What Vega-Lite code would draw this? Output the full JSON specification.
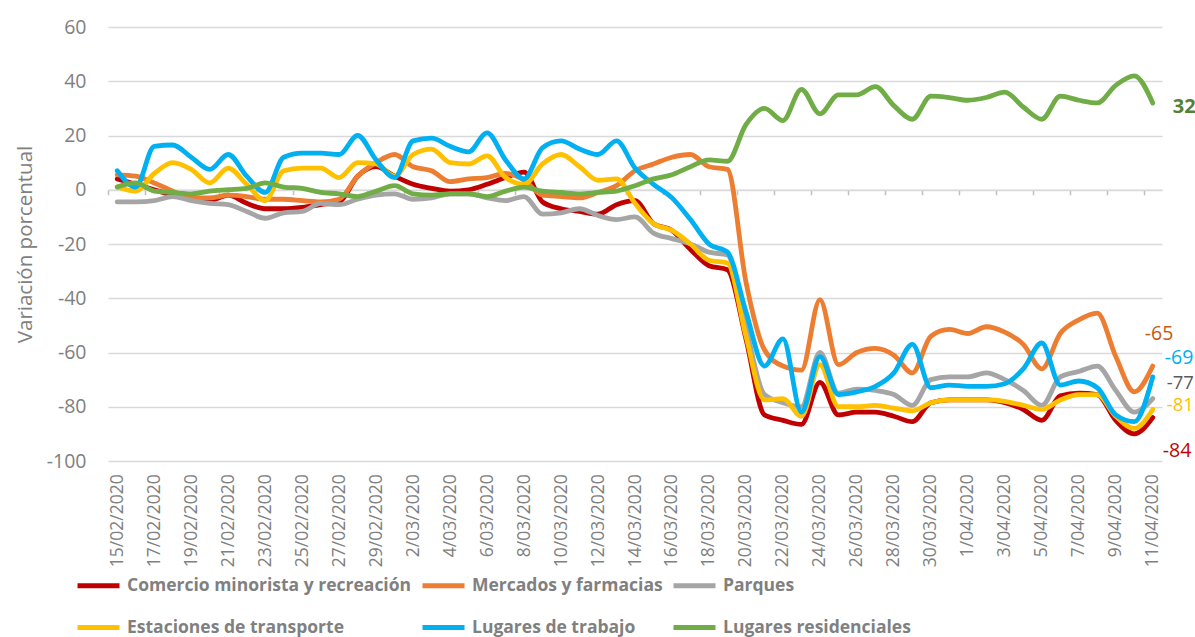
{
"$schema": "https://vega.github.io/schema/vega-lite/v6.json",
"width": 1054, "height": 434,
"autosize": {"type": "none"},
"padding": {"left": 108, "top": 27, "right": 33, "bottom": 176},
"background": "white",
"config": {"view": {"stroke": null}, "font": "Open Sans",
  "locale": {"number": {"decimal": ",", "thousands": ".", "grouping": [3], "currency": ["", " €"], "minus": "-"}}},
"data": {"values": [
{"fecha":"15/02/2020","serie":"Comercio minorista y recreación","valor":4},
{"fecha":"16/02/2020","serie":"Comercio minorista y recreación","valor":2},
{"fecha":"17/02/2020","serie":"Comercio minorista y recreación","valor":0},
{"fecha":"18/02/2020","serie":"Comercio minorista y recreación","valor":-2},
{"fecha":"19/02/2020","serie":"Comercio minorista y recreación","valor":-3.5},
{"fecha":"20/02/2020","serie":"Comercio minorista y recreación","valor":-4},
{"fecha":"21/02/2020","serie":"Comercio minorista y recreación","valor":-2},
{"fecha":"22/02/2020","serie":"Comercio minorista y recreación","valor":-5},
{"fecha":"23/02/2020","serie":"Comercio minorista y recreación","valor":-7},
{"fecha":"24/02/2020","serie":"Comercio minorista y recreación","valor":-7},
{"fecha":"25/02/2020","serie":"Comercio minorista y recreación","valor":-6.5},
{"fecha":"26/02/2020","serie":"Comercio minorista y recreación","valor":-5.5},
{"fecha":"27/02/2020","serie":"Comercio minorista y recreación","valor":-4.5},
{"fecha":"28/02/2020","serie":"Comercio minorista y recreación","valor":5},
{"fecha":"29/02/2020","serie":"Comercio minorista y recreación","valor":8.5},
{"fecha":"1/03/2020","serie":"Comercio minorista y recreación","valor":5},
{"fecha":"2/03/2020","serie":"Comercio minorista y recreación","valor":2},
{"fecha":"3/03/2020","serie":"Comercio minorista y recreación","valor":0.5},
{"fecha":"4/03/2020","serie":"Comercio minorista y recreación","valor":-0.5},
{"fecha":"5/03/2020","serie":"Comercio minorista y recreación","valor":0},
{"fecha":"6/03/2020","serie":"Comercio minorista y recreación","valor":2},
{"fecha":"7/03/2020","serie":"Comercio minorista y recreación","valor":4.5},
{"fecha":"8/03/2020","serie":"Comercio minorista y recreación","valor":6.5},
{"fecha":"9/03/2020","serie":"Comercio minorista y recreación","valor":-4.5},
{"fecha":"10/03/2020","serie":"Comercio minorista y recreación","valor":-7},
{"fecha":"11/03/2020","serie":"Comercio minorista y recreación","valor":-8},
{"fecha":"12/03/2020","serie":"Comercio minorista y recreación","valor":-9},
{"fecha":"13/03/2020","serie":"Comercio minorista y recreación","valor":-5.5},
{"fecha":"14/03/2020","serie":"Comercio minorista y recreación","valor":-4},
{"fecha":"15/03/2020","serie":"Comercio minorista y recreación","valor":-12.5},
{"fecha":"16/03/2020","serie":"Comercio minorista y recreación","valor":-15},
{"fecha":"17/03/2020","serie":"Comercio minorista y recreación","valor":-22},
{"fecha":"18/03/2020","serie":"Comercio minorista y recreación","valor":-28},
{"fecha":"19/03/2020","serie":"Comercio minorista y recreación","valor":-29.5},
{"fecha":"20/03/2020","serie":"Comercio minorista y recreación","valor":-55},
{"fecha":"21/03/2020","serie":"Comercio minorista y recreación","valor":-83},
{"fecha":"22/03/2020","serie":"Comercio minorista y recreación","valor":-85},
{"fecha":"23/03/2020","serie":"Comercio minorista y recreación","valor":-86.5},
{"fecha":"24/03/2020","serie":"Comercio minorista y recreación","valor":-71},
{"fecha":"25/03/2020","serie":"Comercio minorista y recreación","valor":-83},
{"fecha":"26/03/2020","serie":"Comercio minorista y recreación","valor":-82},
{"fecha":"27/03/2020","serie":"Comercio minorista y recreación","valor":-82},
{"fecha":"28/03/2020","serie":"Comercio minorista y recreación","valor":-83.5},
{"fecha":"29/03/2020","serie":"Comercio minorista y recreación","valor":-85.5},
{"fecha":"30/03/2020","serie":"Comercio minorista y recreación","valor":-78.5},
{"fecha":"31/03/2020","serie":"Comercio minorista y recreación","valor":-77.5},
{"fecha":"1/04/2020","serie":"Comercio minorista y recreación","valor":-77.5},
{"fecha":"2/04/2020","serie":"Comercio minorista y recreación","valor":-77.5},
{"fecha":"3/04/2020","serie":"Comercio minorista y recreación","valor":-78.5},
{"fecha":"4/04/2020","serie":"Comercio minorista y recreación","valor":-81},
{"fecha":"5/04/2020","serie":"Comercio minorista y recreación","valor":-85},
{"fecha":"6/04/2020","serie":"Comercio minorista y recreación","valor":-76},
{"fecha":"7/04/2020","serie":"Comercio minorista y recreación","valor":-75},
{"fecha":"8/04/2020","serie":"Comercio minorista y recreación","valor":-75.5},
{"fecha":"9/04/2020","serie":"Comercio minorista y recreación","valor":-85},
{"fecha":"10/04/2020","serie":"Comercio minorista y recreación","valor":-90},
{"fecha":"11/04/2020","serie":"Comercio minorista y recreación","valor":-84},
{"fecha":"15/02/2020","serie":"Mercados y farmacias","valor":5.5},
{"fecha":"16/02/2020","serie":"Mercados y farmacias","valor":5},
{"fecha":"17/02/2020","serie":"Mercados y farmacias","valor":2.5},
{"fecha":"18/02/2020","serie":"Mercados y farmacias","valor":-0.5},
{"fecha":"19/02/2020","serie":"Mercados y farmacias","valor":-3},
{"fecha":"20/02/2020","serie":"Mercados y farmacias","valor":-3},
{"fecha":"21/02/2020","serie":"Mercados y farmacias","valor":-2},
{"fecha":"22/02/2020","serie":"Mercados y farmacias","valor":-2.5},
{"fecha":"23/02/2020","serie":"Mercados y farmacias","valor":-3.5},
{"fecha":"24/02/2020","serie":"Mercados y farmacias","valor":-3.5},
{"fecha":"25/02/2020","serie":"Mercados y farmacias","valor":-4},
{"fecha":"26/02/2020","serie":"Mercados y farmacias","valor":-4.5},
{"fecha":"27/02/2020","serie":"Mercados y farmacias","valor":-3.5},
{"fecha":"28/02/2020","serie":"Mercados y farmacias","valor":5},
{"fecha":"29/02/2020","serie":"Mercados y farmacias","valor":10},
{"fecha":"1/03/2020","serie":"Mercados y farmacias","valor":13},
{"fecha":"2/03/2020","serie":"Mercados y farmacias","valor":8.5},
{"fecha":"3/03/2020","serie":"Mercados y farmacias","valor":7},
{"fecha":"4/03/2020","serie":"Mercados y farmacias","valor":3},
{"fecha":"5/03/2020","serie":"Mercados y farmacias","valor":4},
{"fecha":"6/03/2020","serie":"Mercados y farmacias","valor":4.5},
{"fecha":"7/03/2020","serie":"Mercados y farmacias","valor":6},
{"fecha":"8/03/2020","serie":"Mercados y farmacias","valor":3.5},
{"fecha":"9/03/2020","serie":"Mercados y farmacias","valor":-2},
{"fecha":"10/03/2020","serie":"Mercados y farmacias","valor":-2.5},
{"fecha":"11/03/2020","serie":"Mercados y farmacias","valor":-3},
{"fecha":"12/03/2020","serie":"Mercados y farmacias","valor":-1},
{"fecha":"13/03/2020","serie":"Mercados y farmacias","valor":1.5},
{"fecha":"14/03/2020","serie":"Mercados y farmacias","valor":7},
{"fecha":"15/03/2020","serie":"Mercados y farmacias","valor":9.5},
{"fecha":"16/03/2020","serie":"Mercados y farmacias","valor":12},
{"fecha":"17/03/2020","serie":"Mercados y farmacias","valor":13},
{"fecha":"18/03/2020","serie":"Mercados y farmacias","valor":8.5},
{"fecha":"19/03/2020","serie":"Mercados y farmacias","valor":7.5},
{"fecha":"20/03/2020","serie":"Mercados y farmacias","valor":-34},
{"fecha":"21/03/2020","serie":"Mercados y farmacias","valor":-59},
{"fecha":"22/03/2020","serie":"Mercados y farmacias","valor":-65},
{"fecha":"23/03/2020","serie":"Mercados y farmacias","valor":-66.5},
{"fecha":"24/03/2020","serie":"Mercados y farmacias","valor":-40.5},
{"fecha":"25/03/2020","serie":"Mercados y farmacias","valor":-64.5},
{"fecha":"26/03/2020","serie":"Mercados y farmacias","valor":-60},
{"fecha":"27/03/2020","serie":"Mercados y farmacias","valor":-58.5},
{"fecha":"28/03/2020","serie":"Mercados y farmacias","valor":-61},
{"fecha":"29/03/2020","serie":"Mercados y farmacias","valor":-67.5},
{"fecha":"30/03/2020","serie":"Mercados y farmacias","valor":-54},
{"fecha":"31/03/2020","serie":"Mercados y farmacias","valor":-51.5},
{"fecha":"1/04/2020","serie":"Mercados y farmacias","valor":-53},
{"fecha":"2/04/2020","serie":"Mercados y farmacias","valor":-50.5},
{"fecha":"3/04/2020","serie":"Mercados y farmacias","valor":-52.5},
{"fecha":"4/04/2020","serie":"Mercados y farmacias","valor":-57},
{"fecha":"5/04/2020","serie":"Mercados y farmacias","valor":-66},
{"fecha":"6/04/2020","serie":"Mercados y farmacias","valor":-53},
{"fecha":"7/04/2020","serie":"Mercados y farmacias","valor":-48},
{"fecha":"8/04/2020","serie":"Mercados y farmacias","valor":-45.5},
{"fecha":"9/04/2020","serie":"Mercados y farmacias","valor":-61.5},
{"fecha":"10/04/2020","serie":"Mercados y farmacias","valor":-74.5},
{"fecha":"11/04/2020","serie":"Mercados y farmacias","valor":-65},
{"fecha":"15/02/2020","serie":"Parques","valor":-4.5},
{"fecha":"16/02/2020","serie":"Parques","valor":-4.5},
{"fecha":"17/02/2020","serie":"Parques","valor":-4},
{"fecha":"18/02/2020","serie":"Parques","valor":-2.5},
{"fecha":"19/02/2020","serie":"Parques","valor":-4},
{"fecha":"20/02/2020","serie":"Parques","valor":-5},
{"fecha":"21/02/2020","serie":"Parques","valor":-5.5},
{"fecha":"22/02/2020","serie":"Parques","valor":-8},
{"fecha":"23/02/2020","serie":"Parques","valor":-10.5},
{"fecha":"24/02/2020","serie":"Parques","valor":-8.5},
{"fecha":"25/02/2020","serie":"Parques","valor":-8},
{"fecha":"26/02/2020","serie":"Parques","valor":-5},
{"fecha":"27/02/2020","serie":"Parques","valor":-5.5},
{"fecha":"28/02/2020","serie":"Parques","valor":-3.5},
{"fecha":"29/02/2020","serie":"Parques","valor":-2},
{"fecha":"1/03/2020","serie":"Parques","valor":-1.5},
{"fecha":"2/03/2020","serie":"Parques","valor":-3.5},
{"fecha":"3/03/2020","serie":"Parques","valor":-3},
{"fecha":"4/03/2020","serie":"Parques","valor":-1.5},
{"fecha":"5/03/2020","serie":"Parques","valor":-1.5},
{"fecha":"6/03/2020","serie":"Parques","valor":-3},
{"fecha":"7/03/2020","serie":"Parques","valor":-4},
{"fecha":"8/03/2020","serie":"Parques","valor":-2.5},
{"fecha":"9/03/2020","serie":"Parques","valor":-9},
{"fecha":"10/03/2020","serie":"Parques","valor":-8.5},
{"fecha":"11/03/2020","serie":"Parques","valor":-7},
{"fecha":"12/03/2020","serie":"Parques","valor":-9.5},
{"fecha":"13/03/2020","serie":"Parques","valor":-11},
{"fecha":"14/03/2020","serie":"Parques","valor":-10},
{"fecha":"15/03/2020","serie":"Parques","valor":-16},
{"fecha":"16/03/2020","serie":"Parques","valor":-18},
{"fecha":"17/03/2020","serie":"Parques","valor":-20},
{"fecha":"18/03/2020","serie":"Parques","valor":-23},
{"fecha":"19/03/2020","serie":"Parques","valor":-24},
{"fecha":"20/03/2020","serie":"Parques","valor":-51},
{"fecha":"21/03/2020","serie":"Parques","valor":-75.5},
{"fecha":"22/03/2020","serie":"Parques","valor":-78.5},
{"fecha":"23/03/2020","serie":"Parques","valor":-80},
{"fecha":"24/03/2020","serie":"Parques","valor":-60},
{"fecha":"25/03/2020","serie":"Parques","valor":-75},
{"fecha":"26/03/2020","serie":"Parques","valor":-73.5},
{"fecha":"27/03/2020","serie":"Parques","valor":-74},
{"fecha":"28/03/2020","serie":"Parques","valor":-75.5},
{"fecha":"29/03/2020","serie":"Parques","valor":-79.5},
{"fecha":"30/03/2020","serie":"Parques","valor":-70},
{"fecha":"31/03/2020","serie":"Parques","valor":-69},
{"fecha":"1/04/2020","serie":"Parques","valor":-69},
{"fecha":"2/04/2020","serie":"Parques","valor":-67.5},
{"fecha":"3/04/2020","serie":"Parques","valor":-70},
{"fecha":"4/04/2020","serie":"Parques","valor":-74},
{"fecha":"5/04/2020","serie":"Parques","valor":-79.5},
{"fecha":"6/04/2020","serie":"Parques","valor":-69},
{"fecha":"7/04/2020","serie":"Parques","valor":-67},
{"fecha":"8/04/2020","serie":"Parques","valor":-65},
{"fecha":"9/04/2020","serie":"Parques","valor":-74},
{"fecha":"10/04/2020","serie":"Parques","valor":-82},
{"fecha":"11/04/2020","serie":"Parques","valor":-77},
{"fecha":"15/02/2020","serie":"Estaciones de transporte","valor":1},
{"fecha":"16/02/2020","serie":"Estaciones de transporte","valor":-0.5},
{"fecha":"17/02/2020","serie":"Estaciones de transporte","valor":6},
{"fecha":"18/02/2020","serie":"Estaciones de transporte","valor":10},
{"fecha":"19/02/2020","serie":"Estaciones de transporte","valor":7.5},
{"fecha":"20/02/2020","serie":"Estaciones de transporte","valor":2.5},
{"fecha":"21/02/2020","serie":"Estaciones de transporte","valor":8},
{"fecha":"22/02/2020","serie":"Estaciones de transporte","valor":2},
{"fecha":"23/02/2020","serie":"Estaciones de transporte","valor":-4},
{"fecha":"24/02/2020","serie":"Estaciones de transporte","valor":7},
{"fecha":"25/02/2020","serie":"Estaciones de transporte","valor":8},
{"fecha":"26/02/2020","serie":"Estaciones de transporte","valor":8},
{"fecha":"27/02/2020","serie":"Estaciones de transporte","valor":4.5},
{"fecha":"28/02/2020","serie":"Estaciones de transporte","valor":10},
{"fecha":"29/02/2020","serie":"Estaciones de transporte","valor":9.5},
{"fecha":"1/03/2020","serie":"Estaciones de transporte","valor":5},
{"fecha":"2/03/2020","serie":"Estaciones de transporte","valor":13},
{"fecha":"3/03/2020","serie":"Estaciones de transporte","valor":15},
{"fecha":"4/03/2020","serie":"Estaciones de transporte","valor":10},
{"fecha":"5/03/2020","serie":"Estaciones de transporte","valor":9.5},
{"fecha":"6/03/2020","serie":"Estaciones de transporte","valor":12.5},
{"fecha":"7/03/2020","serie":"Estaciones de transporte","valor":4.5},
{"fecha":"8/03/2020","serie":"Estaciones de transporte","valor":2},
{"fecha":"9/03/2020","serie":"Estaciones de transporte","valor":9.5},
{"fecha":"10/03/2020","serie":"Estaciones de transporte","valor":13},
{"fecha":"11/03/2020","serie":"Estaciones de transporte","valor":8.5},
{"fecha":"12/03/2020","serie":"Estaciones de transporte","valor":3.5},
{"fecha":"13/03/2020","serie":"Estaciones de transporte","valor":4},
{"fecha":"14/03/2020","serie":"Estaciones de transporte","valor":-5},
{"fecha":"15/03/2020","serie":"Estaciones de transporte","valor":-12.5},
{"fecha":"16/03/2020","serie":"Estaciones de transporte","valor":-15},
{"fecha":"17/03/2020","serie":"Estaciones de transporte","valor":-20},
{"fecha":"18/03/2020","serie":"Estaciones de transporte","valor":-26},
{"fecha":"19/03/2020","serie":"Estaciones de transporte","valor":-27},
{"fecha":"20/03/2020","serie":"Estaciones de transporte","valor":-54},
{"fecha":"21/03/2020","serie":"Estaciones de transporte","valor":-77.5},
{"fecha":"22/03/2020","serie":"Estaciones de transporte","valor":-77},
{"fecha":"23/03/2020","serie":"Estaciones de transporte","valor":-83.5},
{"fecha":"24/03/2020","serie":"Estaciones de transporte","valor":-64.5},
{"fecha":"25/03/2020","serie":"Estaciones de transporte","valor":-80},
{"fecha":"26/03/2020","serie":"Estaciones de transporte","valor":-80},
{"fecha":"27/03/2020","serie":"Estaciones de transporte","valor":-79.5},
{"fecha":"28/03/2020","serie":"Estaciones de transporte","valor":-80.5},
{"fecha":"29/03/2020","serie":"Estaciones de transporte","valor":-81.5},
{"fecha":"30/03/2020","serie":"Estaciones de transporte","valor":-78.5},
{"fecha":"31/03/2020","serie":"Estaciones de transporte","valor":-77.5},
{"fecha":"1/04/2020","serie":"Estaciones de transporte","valor":-77.5},
{"fecha":"2/04/2020","serie":"Estaciones de transporte","valor":-77.5},
{"fecha":"3/04/2020","serie":"Estaciones de transporte","valor":-78},
{"fecha":"4/04/2020","serie":"Estaciones de transporte","valor":-79.5},
{"fecha":"5/04/2020","serie":"Estaciones de transporte","valor":-81},
{"fecha":"6/04/2020","serie":"Estaciones de transporte","valor":-77.5},
{"fecha":"7/04/2020","serie":"Estaciones de transporte","valor":-75.5},
{"fecha":"8/04/2020","serie":"Estaciones de transporte","valor":-75.5},
{"fecha":"9/04/2020","serie":"Estaciones de transporte","valor":-83.5},
{"fecha":"10/04/2020","serie":"Estaciones de transporte","valor":-88},
{"fecha":"11/04/2020","serie":"Estaciones de transporte","valor":-81},
{"fecha":"15/02/2020","serie":"Lugares de trabajo","valor":7},
{"fecha":"16/02/2020","serie":"Lugares de trabajo","valor":1},
{"fecha":"17/02/2020","serie":"Lugares de trabajo","valor":16},
{"fecha":"18/02/2020","serie":"Lugares de trabajo","valor":16.5},
{"fecha":"19/02/2020","serie":"Lugares de trabajo","valor":12},
{"fecha":"20/02/2020","serie":"Lugares de trabajo","valor":7.5},
{"fecha":"21/02/2020","serie":"Lugares de trabajo","valor":13},
{"fecha":"22/02/2020","serie":"Lugares de trabajo","valor":5},
{"fecha":"23/02/2020","serie":"Lugares de trabajo","valor":-1},
{"fecha":"24/02/2020","serie":"Lugares de trabajo","valor":12},
{"fecha":"25/02/2020","serie":"Lugares de trabajo","valor":13.5},
{"fecha":"26/02/2020","serie":"Lugares de trabajo","valor":13.5},
{"fecha":"27/02/2020","serie":"Lugares de trabajo","valor":13},
{"fecha":"28/02/2020","serie":"Lugares de trabajo","valor":20},
{"fecha":"29/02/2020","serie":"Lugares de trabajo","valor":11},
{"fecha":"1/03/2020","serie":"Lugares de trabajo","valor":4.5},
{"fecha":"2/03/2020","serie":"Lugares de trabajo","valor":18},
{"fecha":"3/03/2020","serie":"Lugares de trabajo","valor":19},
{"fecha":"4/03/2020","serie":"Lugares de trabajo","valor":16},
{"fecha":"5/03/2020","serie":"Lugares de trabajo","valor":14},
{"fecha":"6/03/2020","serie":"Lugares de trabajo","valor":21},
{"fecha":"7/03/2020","serie":"Lugares de trabajo","valor":11},
{"fecha":"8/03/2020","serie":"Lugares de trabajo","valor":4},
{"fecha":"9/03/2020","serie":"Lugares de trabajo","valor":15.5},
{"fecha":"10/03/2020","serie":"Lugares de trabajo","valor":18},
{"fecha":"11/03/2020","serie":"Lugares de trabajo","valor":15},
{"fecha":"12/03/2020","serie":"Lugares de trabajo","valor":13},
{"fecha":"13/03/2020","serie":"Lugares de trabajo","valor":18},
{"fecha":"14/03/2020","serie":"Lugares de trabajo","valor":8},
{"fecha":"15/03/2020","serie":"Lugares de trabajo","valor":2},
{"fecha":"16/03/2020","serie":"Lugares de trabajo","valor":-3},
{"fecha":"17/03/2020","serie":"Lugares de trabajo","valor":-11},
{"fecha":"18/03/2020","serie":"Lugares de trabajo","valor":-20},
{"fecha":"19/03/2020","serie":"Lugares de trabajo","valor":-23},
{"fecha":"20/03/2020","serie":"Lugares de trabajo","valor":-45},
{"fecha":"21/03/2020","serie":"Lugares de trabajo","valor":-65},
{"fecha":"22/03/2020","serie":"Lugares de trabajo","valor":-55},
{"fecha":"23/03/2020","serie":"Lugares de trabajo","valor":-82},
{"fecha":"24/03/2020","serie":"Lugares de trabajo","valor":-61.5},
{"fecha":"25/03/2020","serie":"Lugares de trabajo","valor":-75.5},
{"fecha":"26/03/2020","serie":"Lugares de trabajo","valor":-74.5},
{"fecha":"27/03/2020","serie":"Lugares de trabajo","valor":-72.5},
{"fecha":"28/03/2020","serie":"Lugares de trabajo","valor":-67.5},
{"fecha":"29/03/2020","serie":"Lugares de trabajo","valor":-57},
{"fecha":"30/03/2020","serie":"Lugares de trabajo","valor":-73},
{"fecha":"31/03/2020","serie":"Lugares de trabajo","valor":-72},
{"fecha":"1/04/2020","serie":"Lugares de trabajo","valor":-72.5},
{"fecha":"2/04/2020","serie":"Lugares de trabajo","valor":-72.5},
{"fecha":"3/04/2020","serie":"Lugares de trabajo","valor":-71.5},
{"fecha":"4/04/2020","serie":"Lugares de trabajo","valor":-66},
{"fecha":"5/04/2020","serie":"Lugares de trabajo","valor":-56.5},
{"fecha":"6/04/2020","serie":"Lugares de trabajo","valor":-72},
{"fecha":"7/04/2020","serie":"Lugares de trabajo","valor":-70.5},
{"fecha":"8/04/2020","serie":"Lugares de trabajo","valor":-73},
{"fecha":"9/04/2020","serie":"Lugares de trabajo","valor":-83},
{"fecha":"10/04/2020","serie":"Lugares de trabajo","valor":-85.5},
{"fecha":"11/04/2020","serie":"Lugares de trabajo","valor":-69},
{"fecha":"15/02/2020","serie":"Lugares residenciales","valor":1},
{"fecha":"16/02/2020","serie":"Lugares residenciales","valor":2.5},
{"fecha":"17/02/2020","serie":"Lugares residenciales","valor":-0.5},
{"fecha":"18/02/2020","serie":"Lugares residenciales","valor":-1},
{"fecha":"19/02/2020","serie":"Lugares residenciales","valor":-1.5},
{"fecha":"20/02/2020","serie":"Lugares residenciales","valor":-0.5},
{"fecha":"21/02/2020","serie":"Lugares residenciales","valor":0},
{"fecha":"22/02/2020","serie":"Lugares residenciales","valor":0.5},
{"fecha":"23/02/2020","serie":"Lugares residenciales","valor":2.5},
{"fecha":"24/02/2020","serie":"Lugares residenciales","valor":1},
{"fecha":"25/02/2020","serie":"Lugares residenciales","valor":0.5},
{"fecha":"26/02/2020","serie":"Lugares residenciales","valor":-1},
{"fecha":"27/02/2020","serie":"Lugares residenciales","valor":-1.5},
{"fecha":"28/02/2020","serie":"Lugares residenciales","valor":-2.5},
{"fecha":"29/02/2020","serie":"Lugares residenciales","valor":-0.5},
{"fecha":"1/03/2020","serie":"Lugares residenciales","valor":1.5},
{"fecha":"2/03/2020","serie":"Lugares residenciales","valor":-1.5},
{"fecha":"3/03/2020","serie":"Lugares residenciales","valor":-2},
{"fecha":"4/03/2020","serie":"Lugares residenciales","valor":-1.5},
{"fecha":"5/03/2020","serie":"Lugares residenciales","valor":-1.5},
{"fecha":"6/03/2020","serie":"Lugares residenciales","valor":-2.5},
{"fecha":"7/03/2020","serie":"Lugares residenciales","valor":-0.5},
{"fecha":"8/03/2020","serie":"Lugares residenciales","valor":1},
{"fecha":"9/03/2020","serie":"Lugares residenciales","valor":-0.5},
{"fecha":"10/03/2020","serie":"Lugares residenciales","valor":-1},
{"fecha":"11/03/2020","serie":"Lugares residenciales","valor":-1.5},
{"fecha":"12/03/2020","serie":"Lugares residenciales","valor":-1},
{"fecha":"13/03/2020","serie":"Lugares residenciales","valor":-0.5},
{"fecha":"14/03/2020","serie":"Lugares residenciales","valor":1.5},
{"fecha":"15/03/2020","serie":"Lugares residenciales","valor":4},
{"fecha":"16/03/2020","serie":"Lugares residenciales","valor":5.5},
{"fecha":"17/03/2020","serie":"Lugares residenciales","valor":8.5},
{"fecha":"18/03/2020","serie":"Lugares residenciales","valor":11},
{"fecha":"19/03/2020","serie":"Lugares residenciales","valor":10.5},
{"fecha":"20/03/2020","serie":"Lugares residenciales","valor":24},
{"fecha":"21/03/2020","serie":"Lugares residenciales","valor":30},
{"fecha":"22/03/2020","serie":"Lugares residenciales","valor":25.5},
{"fecha":"23/03/2020","serie":"Lugares residenciales","valor":37},
{"fecha":"24/03/2020","serie":"Lugares residenciales","valor":28},
{"fecha":"25/03/2020","serie":"Lugares residenciales","valor":35},
{"fecha":"26/03/2020","serie":"Lugares residenciales","valor":35},
{"fecha":"27/03/2020","serie":"Lugares residenciales","valor":38},
{"fecha":"28/03/2020","serie":"Lugares residenciales","valor":31},
{"fecha":"29/03/2020","serie":"Lugares residenciales","valor":26},
{"fecha":"30/03/2020","serie":"Lugares residenciales","valor":34.5},
{"fecha":"31/03/2020","serie":"Lugares residenciales","valor":34},
{"fecha":"1/04/2020","serie":"Lugares residenciales","valor":33},
{"fecha":"2/04/2020","serie":"Lugares residenciales","valor":34},
{"fecha":"3/04/2020","serie":"Lugares residenciales","valor":36},
{"fecha":"4/04/2020","serie":"Lugares residenciales","valor":30.5},
{"fecha":"5/04/2020","serie":"Lugares residenciales","valor":26},
{"fecha":"6/04/2020","serie":"Lugares residenciales","valor":34.5},
{"fecha":"7/04/2020","serie":"Lugares residenciales","valor":33},
{"fecha":"8/04/2020","serie":"Lugares residenciales","valor":32},
{"fecha":"9/04/2020","serie":"Lugares residenciales","valor":38.5},
{"fecha":"10/04/2020","serie":"Lugares residenciales","valor":42},
{"fecha":"11/04/2020","serie":"Lugares residenciales","valor":32}
]},
"encoding": {
  "x": {"field": "fecha", "type": "nominal", "sort": null,
    "scale": {"type": "point", "padding": 0.5, "domain": ["15/02/2020","16/02/2020","17/02/2020","18/02/2020","19/02/2020","20/02/2020","21/02/2020","22/02/2020","23/02/2020","24/02/2020","25/02/2020","26/02/2020","27/02/2020","28/02/2020","29/02/2020","1/03/2020","2/03/2020","3/03/2020","4/03/2020","5/03/2020","6/03/2020","7/03/2020","8/03/2020","9/03/2020","10/03/2020","11/03/2020","12/03/2020","13/03/2020","14/03/2020","15/03/2020","16/03/2020","17/03/2020","18/03/2020","19/03/2020","20/03/2020","21/03/2020","22/03/2020","23/03/2020","24/03/2020","25/03/2020","26/03/2020","27/03/2020","28/03/2020","29/03/2020","30/03/2020","31/03/2020","1/04/2020","2/04/2020","3/04/2020","4/04/2020","5/04/2020","6/04/2020","7/04/2020","8/04/2020","9/04/2020","10/04/2020","11/04/2020"]},
    "axis": {"title": null, "orient": "bottom", "offset": -271.25,
      "values": ["15/02/2020","17/02/2020","19/02/2020","21/02/2020","23/02/2020","25/02/2020","27/02/2020","29/02/2020","2/03/2020","4/03/2020","6/03/2020","8/03/2020","10/03/2020","12/03/2020","14/03/2020","16/03/2020","18/03/2020","20/03/2020","22/03/2020","24/03/2020","26/03/2020","28/03/2020","30/03/2020","1/04/2020","3/04/2020","5/04/2020","7/04/2020","9/04/2020","11/04/2020"],
      "domain": true, "domainColor": "#d9d9d9", "domainWidth": 1.5,
      "ticks": true, "tickSize": 5, "tickColor": "#bfbfbf", "tickWidth": 1.5,
      "tickOffset": -9.25, "labelOffset": 9.25,
      "labelAngle": -90, "labelPadding": 279, "labelFontSize": 17.5, "labelColor": "#808080",
      "labelFont": "Open Sans", "labelOverlap": false, "grid": false}},
  "y": {"field": "valor", "type": "quantitative",
    "scale": {"domain": [-100, 60], "nice": false, "zero": false},
    "axis": {"title": "Variación porcentual", "values": [-100,-80,-60,-40,-20,0,20,40,60],
      "domain": false, "ticks": false, "grid": true, "gridColor": "#d9d9d9", "gridWidth": 1.5,
      "labelPadding": 22, "labelFontSize": 19.5, "labelColor": "#808080", "labelFont": "Open Sans",
      "titleFont": "Open Sans", "titleFontSize": 20.5, "titleColor": "#808080", "titleFontWeight": "normal",
      "titleX": -83, "titleY": 217, "titleAngle": 270, "titleAlign": "center", "titleBaseline": "middle"}}
},
"layer": [
  {"mark": {"type": "line", "interpolate": "monotone", "strokeWidth": 4.8, "strokeCap": "round", "strokeJoin": "round"},
   "encoding": {
     "color": {"field": "serie", "type": "nominal",
       "scale": {"domain": ["Comercio minorista y recreación","Mercados y farmacias","Parques","Estaciones de transporte","Lugares de trabajo","Lugares residenciales"],
                 "range": ["#c00000","#ed7d31","#a5a5a5","#ffc000","#00b0f0","#70ad47"]},
       "legend": {"title": null, "orient": "none", "legendX": -33, "legendY": 535, "columns": 3, "direction": "horizontal",
         "symbolType": "stroke", "symbolSize": 1764, "symbolStrokeWidth": 5,
         "labelFontSize": 17.5, "labelFontWeight": "bold", "labelColor": "#808080", "labelFont": "Open Sans",
         "labelOffset": 5, "columnPadding": 0, "rowPadding": 8, "labelLimit": 400, "padding": 0}}
   }},
  {"transform": [{"filter": "datum.serie === 'Lugares residenciales' && datum.fecha === '11/04/2020'"}],
   "mark": {"type": "text", "align": "left", "baseline": "middle", "dx": 20, "dy": 4, "fontSize": 20, "fontWeight": "bold", "font": "Open Sans", "color": "#548235"},
   "encoding": {"text": {"field": "valor", "type": "quantitative"}}},
  {"transform": [{"filter": "datum.serie === 'Mercados y farmacias' && datum.fecha === '11/04/2020'"}],
   "mark": {"type": "text", "align": "left", "baseline": "middle", "dx": -8, "dy": -32, "fontSize": 19.5, "font": "Open Sans", "color": "#c55a11"},
   "encoding": {"text": {"field": "valor", "type": "quantitative"}}},
  {"transform": [{"filter": "datum.serie === 'Lugares de trabajo' && datum.fecha === '11/04/2020'"}],
   "mark": {"type": "text", "align": "left", "baseline": "middle", "dx": 12, "dy": -19, "fontSize": 19.5, "font": "Open Sans", "color": "#00b0f0"},
   "encoding": {"text": {"field": "valor", "type": "quantitative"}}},
  {"transform": [{"filter": "datum.serie === 'Parques' && datum.fecha === '11/04/2020'"}],
   "mark": {"type": "text", "align": "left", "baseline": "middle", "dx": 14, "dy": -15.5, "fontSize": 18.5, "font": "Open Sans", "color": "#595959"},
   "encoding": {"text": {"field": "valor", "type": "quantitative"}}},
  {"transform": [{"filter": "datum.serie === 'Estaciones de transporte' && datum.fecha === '11/04/2020'"}],
   "mark": {"type": "text", "align": "left", "baseline": "middle", "dx": 14, "dy": -4.5, "fontSize": 18.5, "font": "Open Sans", "color": "#ffc000"},
   "encoding": {"text": {"field": "valor", "type": "quantitative"}}},
  {"transform": [{"filter": "datum.serie === 'Comercio minorista y recreación' && datum.fecha === '11/04/2020'"}],
   "mark": {"type": "text", "align": "left", "baseline": "middle", "dx": 10, "dy": 33, "fontSize": 19.5, "font": "Open Sans", "color": "#c00000"},
   "encoding": {"text": {"field": "valor", "type": "quantitative"}}}
]
}
